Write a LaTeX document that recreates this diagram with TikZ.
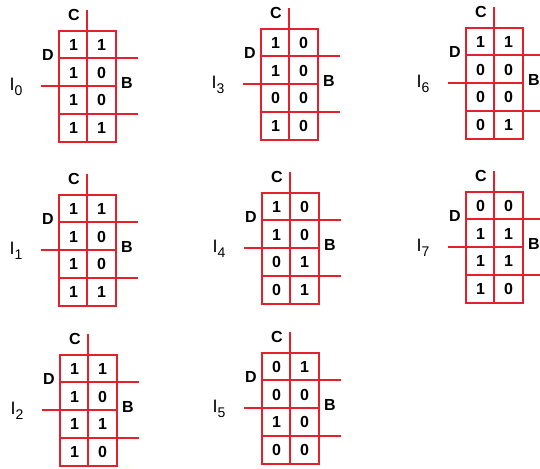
\documentclass[tikz,border=0pt]{standalone}
\usepackage{fontspec}
\setmainfont{Liberation Sans}
\definecolor{kred}{RGB}{228,32,44}
\tikzset{
  kline/.style={draw=kred, line width=2.2pt},
  digit/.style={font=\fontsize{16}{16}\selectfont\bfseries, inner sep=0pt},
  axlabel/.style={font=\fontsize{16}{16}\selectfont\bfseries, inner sep=0pt},
  ilabel/.style={font=\fontsize{18}{18}\selectfont, inner sep=0pt},
}
% #1 name, #2 left, #3 top, #4 subscript, #5 rows
\newcommand\kmap[5]{%
  \begin{scope}[shift={(#2,#3)}]
    \draw[kline] (0,0) rectangle (57,111);
    \draw[kline] (28,-21) -- (28,111);
    \draw[kline] (0,27) -- (79,27);
    \draw[kline] (-18,55) -- (57,55);
    \draw[kline] (0,83) -- (79,83);
    \foreach [count=\r] \a/\b in {#5} {
      \node[digit] (#1-\r-1) at (14.5,{(\r-0.5)*27.75}) {\a};
      \node[digit] (#1-\r-2) at (42.5,{(\r-0.5)*27.75}) {\b};
    }
    \node[axlabel] (#1-C) at (15,-16) {C};
    \node[axlabel] (#1-D) at (-11,24) {D};
    \node[axlabel] (#1-B) at (68,52) {B};
    \node[ilabel] (#1-I) at (-43,56) {I\raisebox{-5pt}{\fontsize{14}{14}\selectfont #4}};
  \end{scope}}
\begin{document}
\begin{tikzpicture}[x=1pt,y=-1pt]
  \useasboundingbox[fill=white] (0,0) rectangle (540,468);
  \kmap{m0}{59}{31}{0}{1/1,1/0,1/0,1/1}
  \kmap{m3}{261}{29}{3}{1/0,1/0,0/0,1/0}
  \kmap{m6}{466}{28}{6}{1/1,0/0,0/0,0/1}
  \kmap{m1}{59}{195}{1}{1/1,1/0,1/0,1/1}
  \kmap{m4}{262}{193}{4}{1/0,1/0,0/1,0/1}
  \kmap{m7}{466}{192}{7}{0/0,1/1,1/1,1/0}
  \kmap{m2}{60}{355}{2}{1/1,1/0,1/1,1/0}
  \kmap{m5}{262}{353}{5}{0/1,0/0,1/0,0/0}
\end{tikzpicture}
\end{document}
